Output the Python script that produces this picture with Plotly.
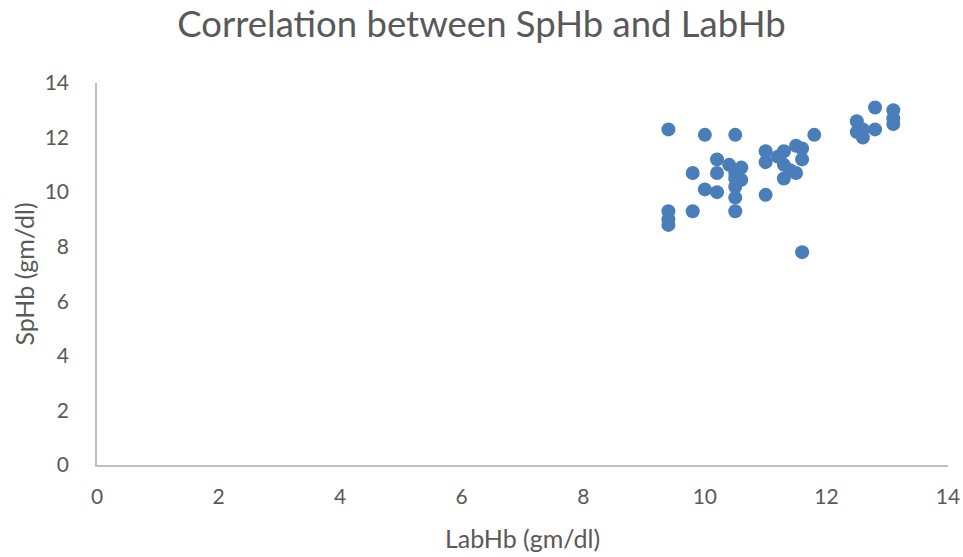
import plotly.graph_objects as go

lab_hb = [9.4, 10.0, 10.5, 9.4, 9.4, 9.4, 9.8, 9.8, 10.0, 10.2, 10.2, 10.2, 10.4,
          10.5, 10.5, 10.5, 10.5, 10.5, 10.6, 10.6, 11.0, 11.0, 11.0, 11.2, 11.3,
          11.3, 11.4, 11.5, 11.5, 11.3, 11.6, 11.6, 11.8, 11.6, 12.5, 12.5, 12.6,
          12.6, 12.8, 12.8, 13.1, 13.1, 13.1]
sp_hb = [12.3, 12.1, 12.1, 9.3, 9.0, 8.8, 9.3, 10.7, 10.1, 10.0, 11.2, 10.7, 11.0,
         9.3, 9.8, 10.2, 10.5, 10.7, 10.45, 10.9, 9.9, 11.5, 11.1, 11.3, 11.0,
         10.5, 10.8, 10.7, 11.7, 11.5, 11.2, 11.6, 12.1, 7.8, 12.6, 12.2, 12.0,
         12.3, 13.1, 12.3, 13.0, 12.7, 12.5]

x_ticks = [0, 2, 4, 6, 8, 10, 12, 14]
y_ticks = [0, 2, 4, 6, 8, 10, 12, 14]

fig = go.Figure()
fig.add_trace(go.Scatter(
    x=lab_hb, y=sp_hb, mode="markers",
    marker=dict(size=14, color="#4a7ebb"),
    hoverinfo="x+y",
))

font_family = "Lato, 'Open Sans', sans-serif"
fig.update_layout(
    width=963, height=557,
    margin=dict(l=97, r=15, t=83, b=92),
    paper_bgcolor="white", plot_bgcolor="white",
    showlegend=False,
    title=dict(text="Correlation between SpHb and LabHb", x=0.5, xanchor="center",
               y=0.957, yanchor="middle",
               font=dict(family=font_family, size=36.5, color="#595959")),
    font=dict(family=font_family, color="#595959"),
)
fig.update_xaxes(
    range=[0, 14], tickvals=x_ticks, showgrid=False, zeroline=False,
    showline=True, linecolor="#bfbfbf", linewidth=1.5, automargin=False,
    tickfont=dict(size=21, color="#595959"), ticks="", ticklabelstandoff=12,
    title=dict(text="LabHb (gm/dl)", font=dict(size=25, color="#595959"), standoff=24),
)
fig.update_yaxes(
    range=[0, 14], tickvals=y_ticks, showgrid=False, zeroline=False,
    showline=True, linecolor="#bfbfbf", linewidth=1.5, automargin=False,
    tickfont=dict(size=21, color="#595959"), ticks="", ticklabelstandoff=22,
    title=dict(text="SpHb (gm/dl)", font=dict(size=25, color="#595959"), standoff=3),
)

fig.write_html("out.html")
